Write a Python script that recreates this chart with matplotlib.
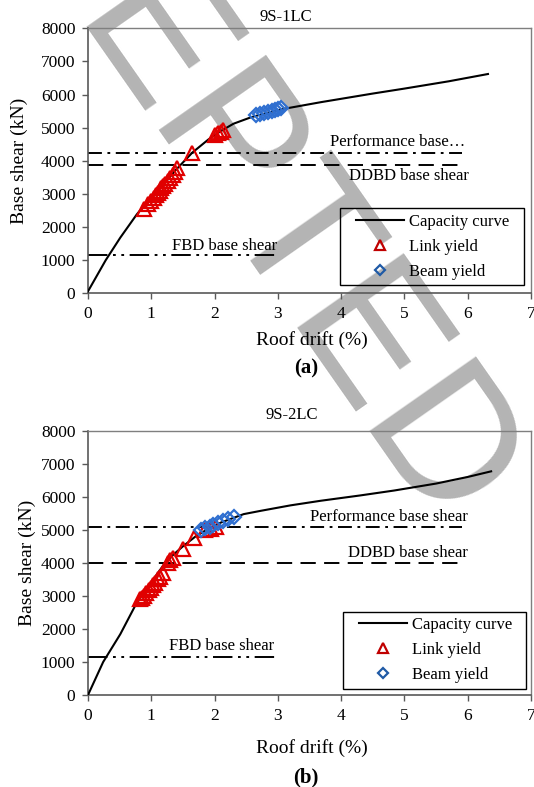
import numpy as np
import matplotlib
matplotlib.use("Agg")
from matplotlib import pyplot as plt
from matplotlib.patches import Rectangle

plt.rcParams['font.family'] = ['Liberation Serif', 'DejaVu Serif']
plt.rcParams['font.size'] = 12
plt.rcParams['lines.scale_dashes'] = False

W, H = 534, 787

# ---- panel (a) 9S-1LC ----
cap_a_x = [0, 0.28, 0.51, 0.77, 0.9, 1.05, 1.2, 1.4, 1.65, 1.9, 2.1, 2.3, 2.57,
           2.85, 3.1, 3.68, 4.5, 5.0, 5.7, 6.32]
cap_a_y = [60, 1000, 1680, 2380, 2680, 3000, 3300, 3750, 4250, 4640, 4900, 5120,
           5310, 5460, 5570, 5770, 6030, 6180, 6400, 6620]
link_a_x = [0.88, 0.95, 1.0, 1.04, 1.07, 1.1, 1.13, 1.16, 1.19, 1.22, 1.26, 1.3,
            1.34, 1.38, 1.41, 1.65, 2.0, 2.05, 2.1, 2.14]
link_a_y = [2540, 2690, 2800, 2890, 2960, 3040, 3100, 3170, 3230, 3290, 3380, 3470,
            3560, 3650, 3790, 4250, 4780, 4830, 4880, 4920]
beam_a_x = [2.65, 2.72, 2.78, 2.84, 2.9, 2.95, 3.0, 3.05]
beam_a_y = [5380, 5420, 5450, 5480, 5510, 5540, 5560, 5590]
perf_a, ddbd_a, fbd_a = 4250, 3870, 1150

# ---- panel (b) 9S-2LC ----
cap_b_x = [0, 0.24, 0.51, 0.745, 0.9, 1.05, 1.2, 1.35, 1.5, 1.7, 1.9, 2.1, 2.46,
           2.73, 3.2, 3.68, 4.3, 4.84, 5.5, 6.0, 6.37]
cap_b_y = [0, 1000, 1840, 2700, 3150, 3550, 3950, 4250, 4500, 4800, 5030, 5220,
           5475, 5575, 5740, 5880, 6040, 6190, 6400, 6600, 6770]
link_b_x = [0.82, 0.85, 0.88, 0.92, 0.96, 1.0, 1.03, 1.06, 1.1, 1.14, 1.18, 1.26,
            1.3, 1.35, 1.5, 1.68, 1.85, 1.95, 2.03]
link_b_y = [2900, 2950, 3000, 3080, 3170, 3250, 3330, 3400, 3500, 3580, 3680, 4000,
            4080, 4160, 4420, 4750, 4980, 5030, 5080]
beam_b_x = [1.78, 1.85, 1.92, 1.98, 2.05, 2.13, 2.22, 2.3]
beam_b_y = [4990, 5040, 5100, 5150, 5210, 5270, 5340, 5400]
perf_b, ddbd_b, fbd_b = 5090, 4000, 1160

perf_dash = (0, (10, 4, 2, 4))
ddbd_dash = (0, (11, 6))
fbd_dash = (0, (14, 4, 2, 4, 2, 4))


def px(x, y):
    return x / W, 1 - y / H


fig = plt.figure(figsize=(W / 100, H / 100), dpi=100)

# watermark behind the charts
fig.text(*px(-152, -312), 'ACCEPTED', fontsize=136, family='Liberation Sans',
         color='#b4b4b4', rotation=-55, rotation_mode='anchor',
         ha='left', va='baseline', zorder=-5)


def panel(top, bottom, cx, cy, lx, ly, bx, by, perf, ddbd, fbd, perf_txt, txt_pos,
          title, title_xy, ylab_x, xlab_y, tag, tag_y, leg_box, leg_anchor):
    l, r = 88, 531
    ax = fig.add_axes([l / W, 1 - bottom / H, (r - l) / W, (bottom - top) / H])
    ax.patch.set_alpha(0)
    ax.plot(cx, cy, color='black', lw=1.5, label='Capacity curve', zorder=3)
    ax.plot(lx, ly, linestyle='none', marker='^', ms=9.5, mfc='none', mec='#e00000',
            mew=1.6, label='Link yield', zorder=4)
    ax.plot(bx, by, linestyle='none', marker='D', ms=7, mfc='none', mec='#2f6fd0',
            mew=1.6, label='Beam yield', zorder=5)
    ax.plot([0, 5.91], [perf, perf], color='black', lw=1.4, linestyle=perf_dash)
    ax.plot([0, 5.91], [ddbd, ddbd], color='black', lw=1.4, linestyle=ddbd_dash)
    ax.plot([0, 3.02], [fbd, fbd], color='black', lw=1.4, linestyle=fbd_dash)

    (px1, py1), (px2, py2), (px3, py3) = txt_pos
    ax.text(px1, py1, perf_txt, ha='right', va='center')
    ax.text(px2, py2, 'DDBD base shear', ha='right', va='center')
    ax.text(px3, py3, 'FBD base shear', ha='left', va='center')

    ax.set_xlim(0, 7)
    ax.set_ylim(0, 8000)
    ax.set_xticks(range(0, 8))
    ax.set_yticks(range(0, 8001, 1000))
    ax.tick_params(direction='out', length=4, width=1, color='#595959',
                   labelsize=12.5, pad=5)
    for s in ['left', 'bottom']:
        ax.spines[s].set_color('#595959')
        ax.spines[s].set_linewidth(1.2)
    for s in ['top', 'right']:
        ax.spines[s].set_color('#7f7f7f')
        ax.spines[s].set_linewidth(1)

    leg = ax.legend(loc='center left', bbox_to_anchor=px(*leg_anchor),
                    bbox_transform=fig.transFigure, borderaxespad=0,
                    handlelength=2.9, handletextpad=0.3, labelspacing=0.55,
                    borderpad=0, frameon=False, fontsize=12, markerscale=0.75)
    for h in leg.legend_handles[1:]:
        h.set_markeredgecolor('#c00000' if h.get_marker() == '^' else '#1f5aa6')
    x0, y0, x1, y1 = leg_box
    fig.add_artist(Rectangle(px(x0, y1), (x1 - x0) / W, (y1 - y0) / H,
                             transform=fig.transFigure, fill=False,
                             edgecolor='black', lw=1))

    fig.text(*px(*title_xy), title, ha='center', va='center', fontsize=12)
    fig.text(*px(ylab_x, (top + bottom) / 2), 'Base shear (kN)', rotation=90,
             ha='center', va='center', fontsize=14)
    fig.text(*px(312, xlab_y), 'Roof drift (%)', ha='center', va='center', fontsize=14)
    fig.text(*px(306, tag_y), tag, ha='center', va='center', fontsize=15,
             fontweight='bold')
    return ax


panel(28.3, 293.3, cap_a_x, cap_a_y, link_a_x, link_a_y, beam_a_x, beam_a_y,
      perf_a, ddbd_a, fbd_a, 'Performance base\u2026',
      [(5.96, 4570), (6.02, 3540), (1.33, 1430)],
      '9S-1LC', (286, 17), 19, 340, '(a)', 368,
      (340, 208, 524, 285), (356, 247))

panel(430.7, 695, cap_b_x, cap_b_y, link_b_x, link_b_y, beam_b_x, beam_b_y,
      perf_b, ddbd_b, fbd_b, 'Performance base shear',
      [(6.0, 5390), (6.0, 4300), (1.28, 1480)],
      '9S-2LC', (292, 415), 27, 748, '(b)', 777,
      (343, 612, 526, 689), (359, 650))

fig.savefig('out.png', dpi=100)
